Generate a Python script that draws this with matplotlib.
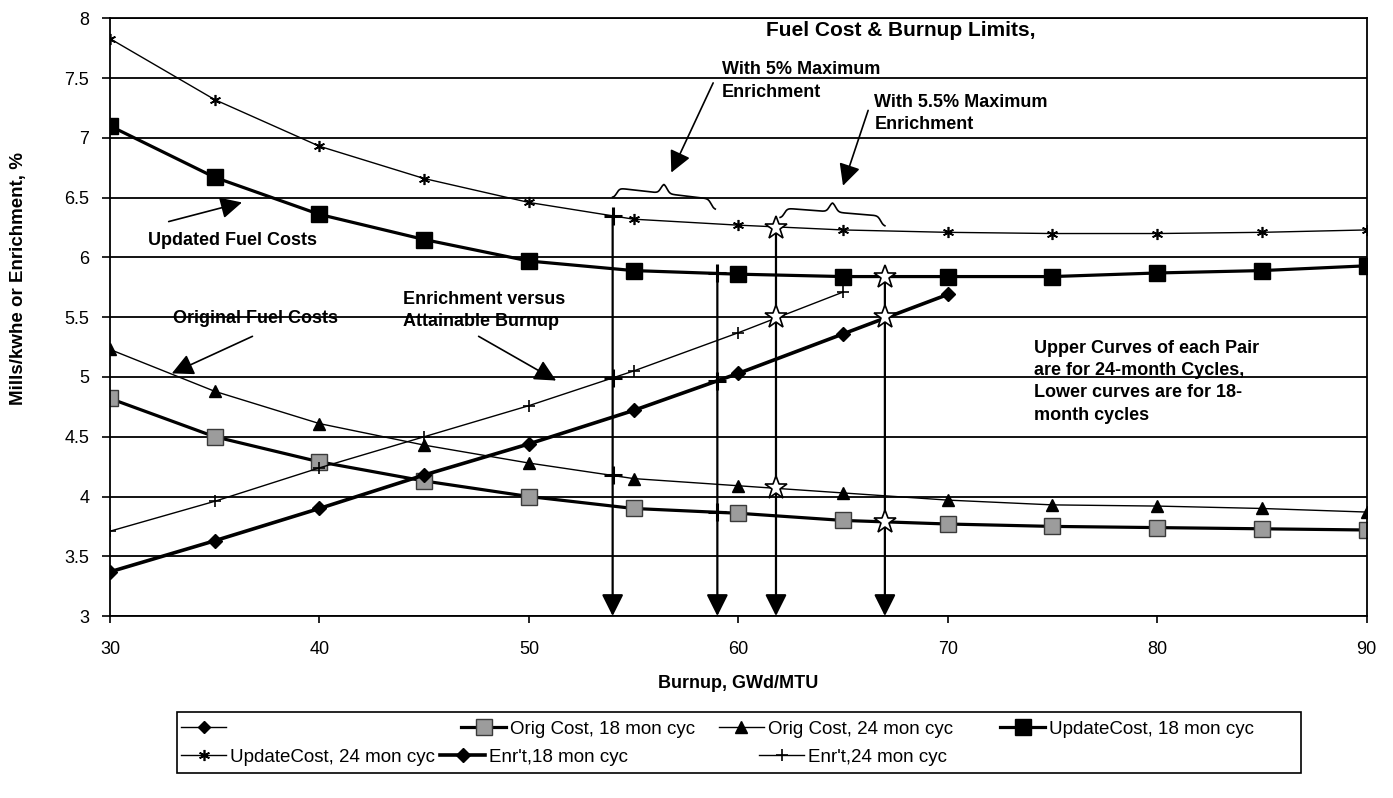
import numpy as np
import matplotlib
matplotlib.use('Agg')
import matplotlib.pyplot as plt
from matplotlib.lines import Line2D
from matplotlib.patches import Rectangle

plt.rcParams['font.family'] = ['Liberation Sans', 'DejaVu Sans']

# burnup, GWd/MTU
burnup = [30, 35, 40, 45, 50, 55, 60, 65, 70, 75, 80, 85, 90]
orig_cost_18 = [4.82, 4.50, 4.29, 4.13, 4.00, 3.90, 3.86, 3.80, 3.77, 3.75, 3.74, 3.73, 3.72]
orig_cost_24 = [5.23, 4.88, 4.61, 4.43, 4.28, 4.15, 4.09, 4.03, 3.97, 3.93, 3.92, 3.90, 3.87]
update_cost_18 = [7.10, 6.67, 6.36, 6.15, 5.97, 5.89, 5.86, 5.84, 5.84, 5.84, 5.87, 5.89, 5.93]
update_cost_24 = [7.83, 7.32, 6.93, 6.66, 6.46, 6.32, 6.27, 6.23, 6.21, 6.20, 6.20, 6.21, 6.23]

enr_burnup_18 = [30, 35, 40, 45, 50, 55, 60, 65, 70]
enr_18 = [3.37, 3.63, 3.90, 4.18, 4.44, 4.72, 5.03, 5.36, 5.69]
enr_burnup_24 = [30, 35, 40, 45, 50, 55, 60, 65]
enr_24 = [3.71, 3.96, 4.24, 4.50, 4.76, 5.05, 5.37, 5.71]

# burnup limits for 5% / 5.5% enrichment, drop lines start on the upper curves
limit_burnup = [54, 59, 61.8, 67]
limit_top = [6.35, 5.87, 6.25, 5.84]
cross_x = [54, 54, 54, 59, 59, 59]
cross_y = [6.35, 4.99, 4.18, 5.87, 4.97, 3.87]
star_x = [61.8, 61.8, 61.8, 67, 67, 67]
star_y = [6.25, 5.50, 4.07, 5.84, 5.50, 3.79]

xticks = [30, 40, 50, 60, 70, 80, 90]
yticks = [3, 3.5, 4, 4.5, 5, 5.5, 6, 6.5, 7, 7.5, 8]
ytick_labels = ['3', '3.5', '4', '4.5', '5', '5.5', '6', '6.5', '7', '7.5', '8']

ARROW = '-|>,head_length=0.6,head_width=0.3'
W, H = 1393, 798


def arrow(ax, tip, start, lw=1.2, ms=22):
    ax.annotate('', xy=tip, xytext=start,
                arrowprops=dict(arrowstyle=ARROW, color='black', lw=lw, mutation_scale=ms,
                                shrinkA=0, shrinkB=0))


def brace(ax, x0, x1, y0, y1, h):
    u = np.linspace(0, 1, 300)
    w = np.minimum(u, 1 - u)
    f = 0.5 / (1 + np.exp(-70 * (w - 0.04))) + 0.5 / (1 + np.exp(-70 * (w - 0.47)))
    ax.plot(x0 + (x1 - x0) * u, y0 + (y1 - y0) * u + h * f, color='black', lw=1.2)


fig = plt.figure(figsize=(13.93, 7.98), dpi=100)
ax = fig.add_axes([0.079, 0.228, 0.902, 0.749])

ax.set_xlim(30, 90)
ax.set_ylim(3, 8)
ax.set_xticks(xticks)
ax.set_yticks(yticks)
ax.set_yticklabels(ytick_labels)
ax.tick_params(axis='both', labelsize=13, direction='out', width=1.2)
ax.tick_params(axis='y', length=6, pad=9)
ax.tick_params(axis='x', length=5, pad=13)
ax.grid(axis='y', color='black', lw=1.3)
ax.set_axisbelow(True)
for s in ax.spines.values():
    s.set_linewidth(1.3)

l_o18, = ax.plot(burnup, orig_cost_18, color='black', lw=2.3, marker='s', ms=12,
                 mfc='#9c9c9c', mec='#3a3a3a', mew=1, label='Orig Cost, 18 mon cyc')
l_o24, = ax.plot(burnup, orig_cost_24, color='black', lw=1, marker='^', ms=9,
                 mfc='black', mec='black', label='Orig Cost, 24 mon cyc')
l_u18, = ax.plot(burnup, update_cost_18, color='black', lw=2.3, marker='s', ms=12,
                 mfc='black', mec='black', label='UpdateCost, 18 mon cyc')
l_u24, = ax.plot(burnup, update_cost_24, color='black', lw=1, marker=(6, 2, 0), ms=8,
                 mew=1.2, label='UpdateCost, 24 mon cyc')
l_e18, = ax.plot(enr_burnup_18, enr_18, color='black', lw=2.6, marker='D', ms=7,
                 label="Enr't,18 mon cyc")
l_e24, = ax.plot(enr_burnup_24, enr_24, color='black', lw=1, marker='+', ms=8,
                 mew=1.2, label="Enr't,24 mon cyc")

# drop lines to the burnup axis
for x, top in zip(limit_burnup, limit_top):
    arrow(ax, (x, 3.0), (x, top), lw=1.6, ms=22)
ax.plot(cross_x, cross_y, ls='none', marker='+', ms=13, mew=2.2, color='black', zorder=5)
ax.plot(star_x, star_y, ls='none', marker='*', ms=17, mfc='white', mec='black', mew=1.2, zorder=6)

brace(ax, 54, 58.9, 6.50, 6.40, 0.17)
brace(ax, 62, 67, 6.33, 6.26, 0.17)

txt = dict(fontsize=13, fontweight='bold', va='center')
ax.text(61.3, 7.9, 'Fuel Cost & Burnup Limits,', fontsize=15, fontweight='bold', va='center')
ax.text(59.2, 7.475, 'With 5% Maximum\nEnrichment', linespacing=1.5, **txt)
arrow(ax, (56.8, 6.71), (58.8, 7.46))
ax.text(66.5, 7.205, 'With 5.5% Maximum\nEnrichment', linespacing=1.4, **txt)
arrow(ax, (65.0, 6.6), (66.2, 7.23))

ax.text(31.8, 6.145, 'Updated Fuel Costs', **txt)
arrow(ax, (36.3, 6.46), (32.8, 6.3))
ax.text(33.0, 5.49, 'Original Fuel Costs', **txt)
arrow(ax, (32.95, 5.03), (36.8, 5.34))
ax.text(44.0, 5.555, 'Enrichment versus\nAttainable Burnup', linespacing=1.35, **txt)
arrow(ax, (51.3, 4.97), (47.6, 5.34))
ax.text(74.1, 4.96, 'Upper Curves of each Pair\nare for 24-month Cycles,\n'
        'Lower curves are for 18-\nmonth cycles', linespacing=1.4, **txt)

ax.set_xlabel('Burnup, GWd/MTU', fontsize=13, fontweight='bold')
ax.xaxis.set_label_coords(0.5, -0.098)
ax.set_ylabel('Mills/kwhe or Enrichment, %', fontsize=13.5, fontweight='bold')
ax.yaxis.set_label_coords(-0.066, 0.565)

# legend: two rows with uneven columns, as in the original
blank = Line2D([], [], color='black', lw=1, marker='D', ms=6)
kw = dict(frameon=False, fontsize=13.5, borderpad=0, borderaxespad=0, handlelength=2.4,
          handletextpad=0.2, loc='center left')
row1, row2 = 1 - 729 / H, 1 - 757 / H
fig.legend([blank], [''], bbox_to_anchor=(181 / W, row1), **kw)
for line, x0 in [(l_o18, 461), (l_o24, 719), (l_u18, 1000)]:
    fig.legend([line], [line.get_label()], bbox_to_anchor=(x0 / W, row1), **kw)
fig.legend([l_u24, l_e18], [l_u24.get_label(), l_e18.get_label()], ncol=2, columnspacing=0.3,
           bbox_to_anchor=(181 / W, row2), **kw)
fig.legend([l_e24], [l_e24.get_label()], bbox_to_anchor=(759 / W, row2), **kw)
fig.add_artist(Rectangle((177 / W, 1 - 773 / H), (1301 - 177) / W, 61 / H,
                         transform=fig.transFigure, fill=False, lw=1.2, color='black'))

fig.savefig('out.png', dpi=100)
